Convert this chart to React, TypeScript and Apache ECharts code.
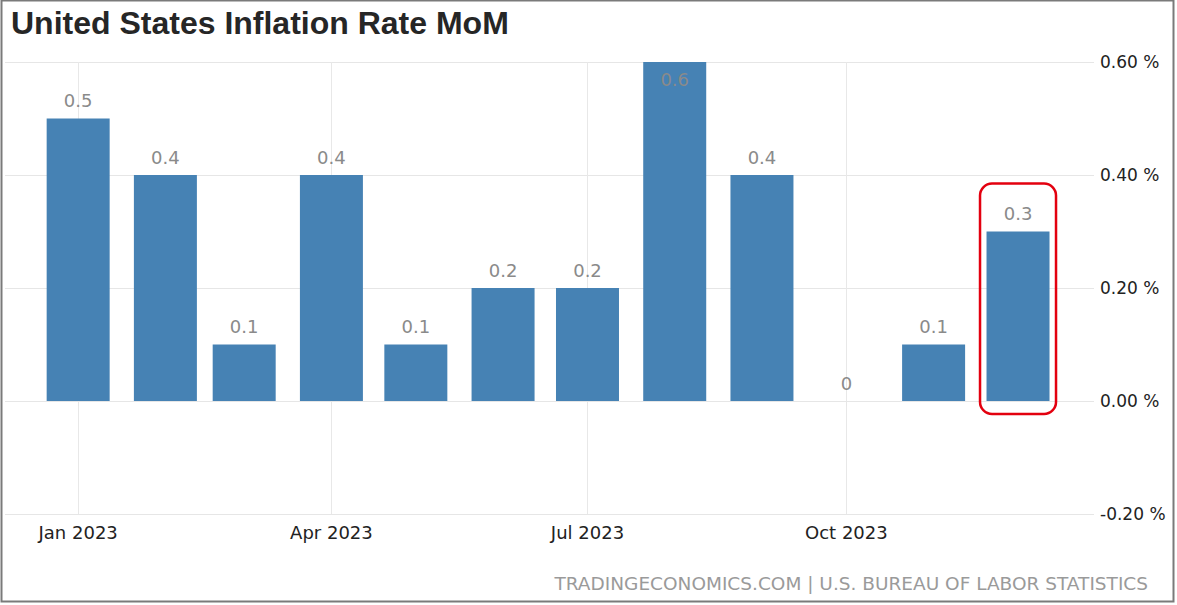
import React, { useEffect, useRef } from "react";
import * as echarts from "echarts";

const monthNames = ["Jan", "Feb", "Mar", "Apr", "May", "Jun", "Jul", "Aug", "Sep", "Oct", "Nov", "Dec"];
const barMonths = [
  "2023-01", "2023-02", "2023-03", "2023-04", "2023-05", "2023-06",
  "2023-07", "2023-08", "2023-09", "2023-10", "2023-11", "2023-12",
];
const inflationMoM = [0.5, 0.4, 0.1, 0.4, 0.1, 0.2, 0.2, 0.6, 0.4, 0, 0.1, 0.3];
const xTickMonths = ["2023-01", "2023-04", "2023-07", "2023-10"];
const yMin = -0.2;
const yMax = 0.6;
const yStep = 0.2;
const highlightMonth = "2023-12";
const originMonth = "2023-01";

const DAY = 86400000;
const utc = (ym: string) => {
  const [y, m] = ym.split("-").map(Number);
  return Date.UTC(y, m - 1, 1);
};
// days since the first month (a linear time scale in days)
const dayOf = (ym: string) => Math.round((utc(ym) - utc(originMonth)) / DAY);

export default function App() {
  const ref = useRef<HTMLDivElement>(null);
  useEffect(() => {
    if (!ref.current) return;
    const chart = echarts.init(ref.current, null, { renderer: "svg" });
    const font = "DejaVu Sans";
    const data = barMonths.map((m, i) => {
      const v = inflationMoM[i];
      const item: any = { value: [dayOf(m), v] };
      if (v >= yMax - 1e-9) {
        item.label = { position: "insideTop", distance: 8 };
      }
      return item;
    });
    const tickVals = xTickMonths.map((m) => dayOf(m));
    const fmt = (v: number) => {
      const d = new Date(utc(originMonth) + v * DAY);
      return monthNames[d.getUTCMonth()] + " " + d.getUTCFullYear();
    };
    chart.setOption({
      animation: false,
      backgroundColor: "#ffffff",
      title: {
        text: "United States Inflation Rate MoM",
        left: 6,
        top: 2,
        textStyle: {
          fontFamily: "Liberation Sans",
          fontWeight: "bold",
          fontSize: 32,
          color: "#262626",
        },
      },
      grid: { left: 5, right: 83, top: 62, bottom: 91, containLabel: false },
      xAxis: {
        type: "value",
        min: -26,
        max: 361,
        axisLine: { show: false },
        axisTick: {
          show: true,
          customValues: tickVals,
          length: 5,
          lineStyle: { color: "#e6e6e6" },
        },
        splitLine: { show: true, lineStyle: { color: "#e8e8e8", width: 1 } },
        axisLabel: {
          customValues: tickVals,
          margin: 9,
          fontFamily: font,
          fontSize: 18,
          color: "#222",
          formatter: fmt,
        },
      },
      yAxis: {
        type: "value",
        position: "right",
        min: yMin,
        max: yMax,
        interval: yStep,
        axisLine: { show: false },
        axisTick: { show: false },
        splitLine: { show: true, lineStyle: { color: "#e6e6e6", width: 1 } },
        axisLabel: {
          margin: 6,
          fontFamily: font,
          fontSize: 17,
          color: "#222",
          formatter: (v: number) => v.toFixed(2) + " %",
        },
      },
      series: [
        {
          type: "bar",
          data,
          barWidth: 63,
          itemStyle: { color: "#4682b4" },
          label: {
            show: true,
            position: "top",
            distance: 9,
            fontFamily: font,
            fontSize: 18,
            color: "#8a8a8a",
            formatter: (p: any) => String(p.value[1]),
          },
        },
      ],
      graphic: [
        {
          type: "rect",
          shape: { x: 1.5, y: 0.5, width: 1172, height: 601 },
          style: { fill: "none", stroke: "#7a7a7a", lineWidth: 2 },
          silent: true,
        },
        {
          type: "text",
          right: 29,
          top: 574,
          style: {
            text: "TRADINGECONOMICS.COM | U.S. BUREAU OF LABOR STATISTICS",
            fontFamily: font,
            fontSize: 18.5,
            fill: "#9a9a9a",
          },
        },
      ],
    });
    const hi = barMonths.indexOf(highlightMonth);
    const top = chart.convertToPixel({ xAxisIndex: 0, yAxisIndex: 0 }, [dayOf(highlightMonth), inflationMoM[hi]]);
    const zero = chart.convertToPixel({ xAxisIndex: 0, yAxisIndex: 0 }, [dayOf(highlightMonth), 0]);
    if (top && zero) {
      chart.setOption({
        graphic: [
          {},
          {},
          {
            type: "rect",
            shape: {
              x: top[0] - 38,
              y: top[1] - 48,
              width: 76,
              height: zero[1] - top[1] + 61,
              r: 12,
            },
            style: { fill: "none", stroke: "#e3000f", lineWidth: 2.5 },
            silent: true,
            z: 100,
          },
        ],
      });
    }
    return () => chart.dispose();
  }, []);
  return (
    <div
      ref={ref}
      style={{ position: "absolute", left: 0, top: 0, width: 1177, height: 605 }}
    />
  );
}
